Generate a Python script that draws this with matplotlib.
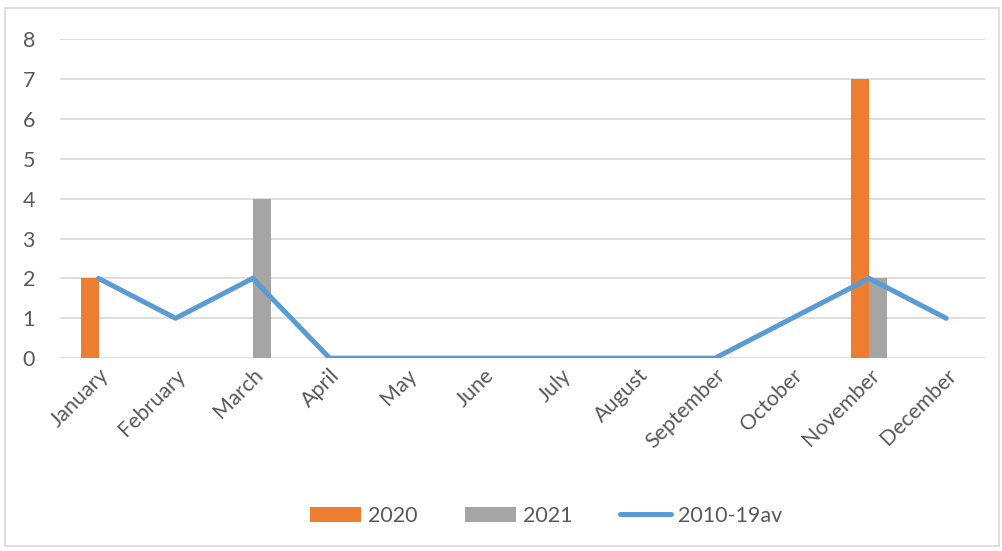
import numpy as np
import matplotlib.pyplot as plt
from matplotlib.patches import Rectangle

months = ['January', 'February', 'March', 'April', 'May', 'June', 'July',
          'August', 'September', 'October', 'November', 'December']
y2020 = [2, 0, 0, 0, 0, 0, 0, 0, 0, 0, 7, 0]
y2021 = [0, 0, 4, 0, 0, 0, 0, 0, 0, 0, 2, 0]
avg_2010_19 = [2, 1, 2, 0, 0, 0, 0, 0, 0, 1, 2, 1]

plt.rcParams['font.family'] = ['Lato', 'DejaVu Sans']
txt = '#595959'
fs = 15.5

fig = plt.figure(figsize=(10.03, 5.51), dpi=100)
fig.add_artist(Rectangle((5 / 1003, 1 - 546 / 551), 994 / 1003, 538 / 551,
                         transform=fig.transFigure, fill=False,
                         edgecolor='#d9d9d9', linewidth=1.2))
ax = fig.add_axes([0.0598, 0.350, 0.922, 0.579])

x = np.arange(len(months))
w = 0.233
b1 = ax.bar(x - w / 2, y2020, w, color='#ed7d31', label='2020', zorder=2)
b2 = ax.bar(x + w / 2, y2021, w, color='#a5a5a5', label='2021', zorder=2)
ln, = ax.plot(x, avg_2010_19, color='#5b9bd5', linewidth=3.6, label='2010-19av',
              zorder=3, solid_capstyle='round', solid_joinstyle='round')

ax.set_xlim(-0.5, len(months) - 0.5)
ax.set_ylim(0, 8)
ax.set_yticks(range(0, 9))
ax.yaxis.grid(True, color='#d9d9d9', linewidth=1.2, zorder=0)
ax.set_axisbelow(True)
for s in ax.spines.values():
    s.set_visible(False)
ax.tick_params(axis='both', length=0, labelsize=fs, labelcolor=txt)
ax.tick_params(axis='y', pad=18)
ax.set_xticks(x)
ax.set_xticklabels(months, rotation=45, ha='right', rotation_mode='anchor')
ax.tick_params(axis='x', pad=5)

fig.legend([b1, b2, ln], ['2020', '2021', '2010-19av'], loc='center',
           bbox_to_anchor=(546 / 1003, 1 - 516 / 551), ncol=3,
           frameon=False, fontsize=fs, labelcolor=txt, handlelength=2.4,
           handleheight=0.7, columnspacing=2.2, handletextpad=0.3)

fig.savefig('out.png', dpi=100)
